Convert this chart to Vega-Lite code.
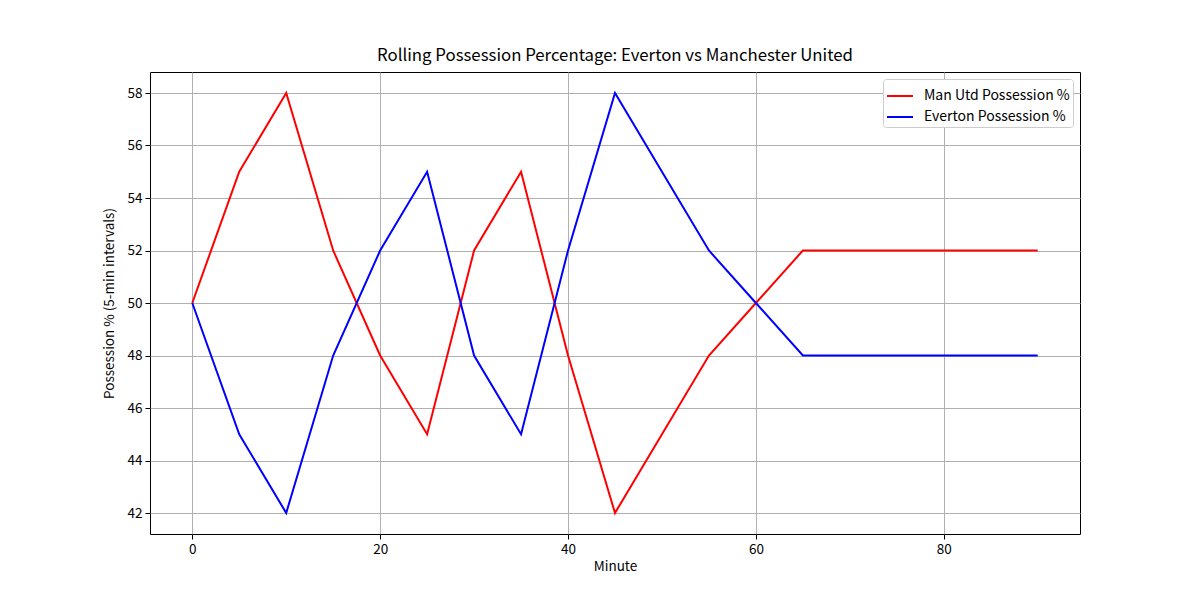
{
  "$schema": "https://vega.github.io/schema/vega-lite/v6.json",
  "autosize": {"type": "none"},
  "width": 930,
  "height": 462,
  "padding": {"left": 150, "top": 72, "right": 120, "bottom": 66},
  "background": "white",
  "title": {
    "text": "Rolling Possession Percentage: Everton vs Manchester United",
    "font": "Noto Sans CJK SC",
    "fontSize": 16.8,
    "fontWeight": "normal",
    "color": "black",
    "anchor": "middle",
    "offset": 7
  },
  "data": {
    "values": [
      {"minute": 0, "team": "Man Utd Possession %", "pct": 50},
      {"minute": 5, "team": "Man Utd Possession %", "pct": 55},
      {"minute": 10, "team": "Man Utd Possession %", "pct": 58},
      {"minute": 15, "team": "Man Utd Possession %", "pct": 52},
      {"minute": 20, "team": "Man Utd Possession %", "pct": 48},
      {"minute": 25, "team": "Man Utd Possession %", "pct": 45},
      {"minute": 30, "team": "Man Utd Possession %", "pct": 52},
      {"minute": 35, "team": "Man Utd Possession %", "pct": 55},
      {"minute": 40, "team": "Man Utd Possession %", "pct": 48},
      {"minute": 45, "team": "Man Utd Possession %", "pct": 42},
      {"minute": 50, "team": "Man Utd Possession %", "pct": 45},
      {"minute": 55, "team": "Man Utd Possession %", "pct": 48},
      {"minute": 60, "team": "Man Utd Possession %", "pct": 50},
      {"minute": 65, "team": "Man Utd Possession %", "pct": 52},
      {"minute": 70, "team": "Man Utd Possession %", "pct": 52},
      {"minute": 75, "team": "Man Utd Possession %", "pct": 52},
      {"minute": 80, "team": "Man Utd Possession %", "pct": 52},
      {"minute": 85, "team": "Man Utd Possession %", "pct": 52},
      {"minute": 90, "team": "Man Utd Possession %", "pct": 52},
      {"minute": 0, "team": "Everton Possession %", "pct": 50},
      {"minute": 5, "team": "Everton Possession %", "pct": 45},
      {"minute": 10, "team": "Everton Possession %", "pct": 42},
      {"minute": 15, "team": "Everton Possession %", "pct": 48},
      {"minute": 20, "team": "Everton Possession %", "pct": 52},
      {"minute": 25, "team": "Everton Possession %", "pct": 55},
      {"minute": 30, "team": "Everton Possession %", "pct": 48},
      {"minute": 35, "team": "Everton Possession %", "pct": 45},
      {"minute": 40, "team": "Everton Possession %", "pct": 52},
      {"minute": 45, "team": "Everton Possession %", "pct": 58},
      {"minute": 50, "team": "Everton Possession %", "pct": 55},
      {"minute": 55, "team": "Everton Possession %", "pct": 52},
      {"minute": 60, "team": "Everton Possession %", "pct": 50},
      {"minute": 65, "team": "Everton Possession %", "pct": 48},
      {"minute": 70, "team": "Everton Possession %", "pct": 48},
      {"minute": 75, "team": "Everton Possession %", "pct": 48},
      {"minute": 80, "team": "Everton Possession %", "pct": 48},
      {"minute": 85, "team": "Everton Possession %", "pct": 48},
      {"minute": 90, "team": "Everton Possession %", "pct": 48}
    ]
  },
  "mark": {"type": "line", "strokeWidth": 2},
  "encoding": {
    "x": {
      "field": "minute",
      "type": "quantitative",
      "title": "Minute",
      "scale": {"domain": [-4.5, 94.5], "nice": false, "zero": false},
      "axis": {"values": [0, 20, 40, 60, 80]}
    },
    "y": {
      "field": "pct",
      "type": "quantitative",
      "title": "Possession % (5-min intervals)",
      "scale": {"domain": [41.2, 58.8], "nice": false, "zero": false},
      "axis": {"values": [42, 44, 46, 48, 50, 52, 54, 56, 58]}
    },
    "color": {
      "field": "team",
      "type": "nominal",
      "sort": ["Man Utd Possession %", "Everton Possession %"],
      "scale": {
        "domain": ["Man Utd Possession %", "Everton Possession %"],
        "range": ["#ff0000", "#0000ff"]
      },
      "legend": {
        "title": null,
        "orient": "top-right",
        "offset": 7,
        "symbolType": "stroke",
        "symbolStrokeWidth": 2,
        "symbolSize": 676,
        "labelFont": "Noto Sans CJK SC",
        "labelFontSize": 14,
        "labelColor": "black",
        "fillColor": "white",
        "strokeColor": "#cccccc",
        "cornerRadius": 3,
        "padding": 3,
        "rowPadding": -6,
        "labelOffset": 10,
        "labelLimit": 300
      }
    }
  },
  "config": {
    "font": "Noto Sans CJK SC",
    "view": {"stroke": "black", "strokeWidth": 1},
    "axis": {
      "grid": true,
      "gridColor": "#b0b0b0",
      "gridWidth": 1,
      "gridOpacity": 1,
      "domain": false,
      "tickColor": "black",
      "tickSize": 5,
      "labelFont": "Noto Sans CJK SC",
      "labelFontSize": 13.5,
      "labelColor": "black",
      "labelPadding": 3,
      "titleFont": "Noto Sans CJK SC",
      "titleFontSize": 13.5,
      "titleFontWeight": "normal",
      "titleColor": "black"
    },
    "axisX": {"titlePadding": 4},
    "axisY": {"titlePadding": 11}
  }
}
